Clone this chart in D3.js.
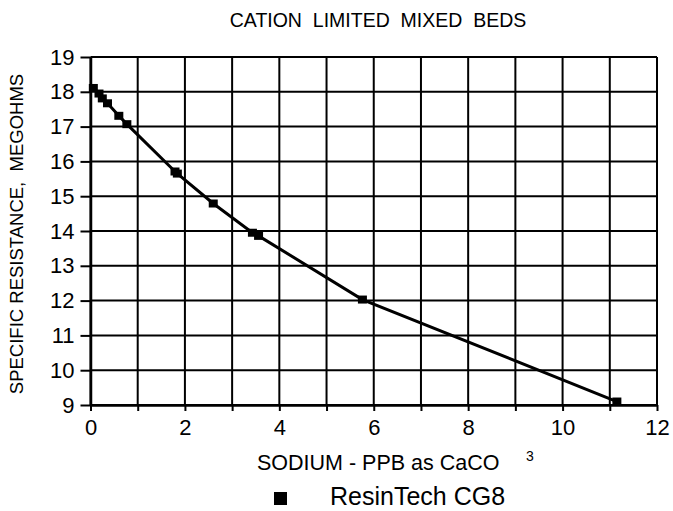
<!DOCTYPE html>
<html>
<head>
<meta charset="utf-8">
<script src="https://cdn.jsdelivr.net/npm/d3@7"></script>
<style>
  body { margin: 0; background: #fff; }
  text { font-family: "Liberation Sans", Arial, sans-serif; fill: #000; }
</style>
</head>
<body>
<div id="chart"></div>
<script>
// values
const sodium = [0.06, 0.18, 0.25, 0.36, 0.60, 0.77, 1.79, 1.84, 2.60, 3.43, 3.56, 5.76, 11.15];
const resistance = [18.11, 17.95, 17.81, 17.67, 17.31, 17.07, 15.71, 15.65, 14.79, 13.95, 13.86, 12.03, 9.1];
const xTicks = [0, 1, 2, 3, 4, 5, 6, 7, 8, 9, 10, 11, 12];
const yTicks = [9, 10, 11, 12, 13, 14, 15, 16, 17, 18, 19];
const seriesName = 'ResinTech CG8';

const W = 673;
const H = 511;
const margin = { top: 57, right: 16, bottom: 106, left: 90.5 };
const width = W - margin.left - margin.right;
const height = H - margin.top - margin.bottom;

const data = sodium.map((s, i) => ({ s, r: resistance[i] }));

const x = d3.scaleLinear().domain([0, 12]).range([0, width]);
const y = d3.scaleLinear().domain([9, 19]).range([height, 0]);

const svg = d3.select('#chart').append('svg')
    .attr('width', W)
    .attr('height', H);

svg.append('text')
    .attr('x', 378)
    .attr('y', 27)
    .attr('text-anchor', 'middle')
    .style('font-size', '19.5px')
    .style('white-space', 'pre')
    .text('CATION  LIMITED  MIXED  BEDS');

const g = svg.append('g')
    .attr('transform', `translate(${margin.left},${margin.top})`);

// grid
g.append('g').selectAll('line')
    .data(xTicks)
  .enter().append('line')
    .attr('x1', (d) => x(d)).attr('x2', (d) => x(d))
    .attr('y1', 0).attr('y2', height)
    .attr('stroke', '#000').attr('stroke-width', 2);

g.append('g').selectAll('line')
    .data(yTicks)
  .enter().append('line')
    .attr('x1', 0).attr('x2', width)
    .attr('y1', (d) => y(d)).attr('y2', (d) => y(d))
    .attr('stroke', '#000').attr('stroke-width', 2);

// axes
const xAxis = d3.axisBottom(x)
    .tickValues(xTicks)
    .tickFormat((d) => (d % 2 === 0 ? d : ''))
    .tickSize(6)
    .tickPadding(8)
    .tickSizeOuter(0);

const yAxis = d3.axisLeft(y)
    .tickValues(yTicks)
    .tickSize(10)
    .tickPadding(6)
    .tickSizeOuter(0);

const gx = g.append('g')
    .attr('transform', `translate(0,${height})`)
    .call(xAxis);
gx.selectAll('text').style('font-size', '22px');

const gy = g.append('g')
    .call(yAxis);
gy.selectAll('text').style('font-size', '22px');

[gx, gy].forEach((a) => {
  a.select('.domain').attr('stroke', '#000').attr('stroke-width', 2.5);
  a.selectAll('.tick line').attr('stroke', '#000').attr('stroke-width', 2);
});

// axis titles
svg.append('text')
    .attr('transform', 'translate(23,234) rotate(-90)')
    .attr('text-anchor', 'middle')
    .style('font-size', '18.5px')
    .style('white-space', 'pre')
    .text('SPECIFIC RESISTANCE,  MEGOHMS');

svg.append('text')
    .attr('x', 257)
    .attr('y', 470)
    .style('font-size', '21.5px')
    .text('SODIUM - PPB as CaCO');

svg.append('text')
    .attr('x', 526)
    .attr('y', 461)
    .style('font-size', '14px')
    .text('3');

// series
const line = d3.line()
    .x((d) => x(d.s))
    .y((d) => y(d.r));

g.append('path')
    .datum(data)
    .attr('fill', 'none')
    .attr('stroke', '#000')
    .attr('stroke-width', 3)
    .attr('d', line);

g.selectAll('.marker')
    .data(data)
  .enter().append('rect')
    .attr('class', 'marker')
    .attr('x', (d) => x(d.s) - 4.5)
    .attr('y', (d) => y(d.r) - 4)
    .attr('width', 9)
    .attr('height', 8)
    .attr('fill', '#000');

// legend
const legend = svg.append('g')
    .attr('transform', 'translate(274,492)');
legend.append('rect')
    .attr('width', 13)
    .attr('height', 13)
    .attr('fill', '#000');
legend.append('text')
    .attr('x', 56)
    .attr('y', 13)
    .style('font-size', '25px')
    .text(seriesName);
</script>
</body>
</html>
